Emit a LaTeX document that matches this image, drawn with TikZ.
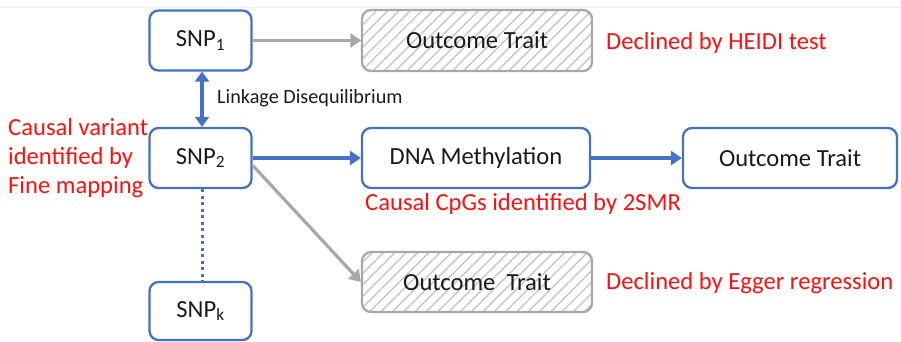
\documentclass[tikz,border=0pt]{standalone}
\usepackage{fontspec}
\setmainfont{Carlito}
\usetikzlibrary{arrows.meta,patterns.meta}
\definecolor{myblue}{HTML}{4472C4}
\definecolor{mygray}{HTML}{A8A8A8}
\definecolor{myred}{HTML}{FF1010}
\definecolor{mytext}{HTML}{1A1A1A}
\tikzset{
  bluebox/.style={draw=myblue, line width=2.3pt, rounded corners=9pt, minimum height=60pt, text=mytext, font=\fontsize{24.6}{28}\selectfont, inner sep=0pt},
  hatchbox/.style={draw=mygray, line width=2.3pt, rounded corners=9pt, minimum height=61pt, minimum width=230pt, text=mytext, font=\fontsize{24.6}{28}\selectfont, inner sep=0pt,
    pattern={Lines[angle=45,distance=8pt,line width=1.4pt]}, pattern color=gray!45},
  redlabel/.style={text=myred, font=\fontsize{24.6}{29}\selectfont, inner sep=0pt, anchor=west},
  bluearrow/.style={draw=myblue, line width=3.2pt, -{Triangle[length=11pt,width=14pt]}},
  grayarrow/.style={draw=mygray, line width=3.2pt, -{Triangle[length=11pt,width=14pt]}},
}
\begin{document}
\begin{tikzpicture}[x=1pt,y=-1pt]
\useasboundingbox (0,0) rectangle (901,342);
\draw[gray!15, line width=0.8pt] (0,7) -- (901,7);
% nodes
\node[bluebox, minimum width=102pt] (snp1) at (200.5,40.5) {SNP\textsubscript{1}};
\node[hatchbox] (out1) at (477,40.5) {Outcome Trait};
\node[bluebox, minimum width=102pt] (snp2) at (200.5,158) {SNP\textsubscript{2}};
\node[bluebox, minimum width=228pt] (dna) at (476,158) {DNA Methylation};
\node[bluebox, minimum width=214pt] (out2) at (790,158) {Outcome Trait};
\node[bluebox, minimum width=102pt, minimum height=58pt] (snpk) at (200.5,311) {SNP\textsubscript{k}};
\node[hatchbox, minimum height=60pt] (out3) at (477,282) {Outcome\ \ Trait};
% connectors
\draw[grayarrow] (snp1.east) -- (out1.west);
\draw[bluearrow] (snp2.east) -- (dna.west);
\draw[bluearrow] (dna.east) -- (out2.west);
\draw[grayarrow] (snp2.-8) -- (out3.west);
\draw[draw=myblue, line width=3.2pt, {Triangle[length=10pt,width=14pt]}-{Triangle[length=10pt,width=14pt]}] ([xshift=1.5pt]snp1.south) -- ([xshift=1.5pt]snp2.north);
\draw[draw=myblue, line width=3pt, dash pattern=on 3pt off 3.5pt] ([xshift=1.5pt]snp2.south) -- ([xshift=1.5pt]snpk.north);
% labels
\node[anchor=west, text=mytext, font=\fontsize{20.2}{24}\selectfont, inner sep=0pt] (ld) at (217,98) {Linkage Disequilibrium};
\node[redlabel, align=left] (fine) at (8,158) {Causal variant\\identified by\\Fine mapping};
\node[redlabel] (cpg) at (365,204) {Causal CpGs identified by 2SMR};
\node[redlabel] (heidi) at (606,43) {Declined by HEIDI test};
\node[redlabel] (egger) at (606,283) {Declined by Egger regression};
\end{tikzpicture}
\end{document}
